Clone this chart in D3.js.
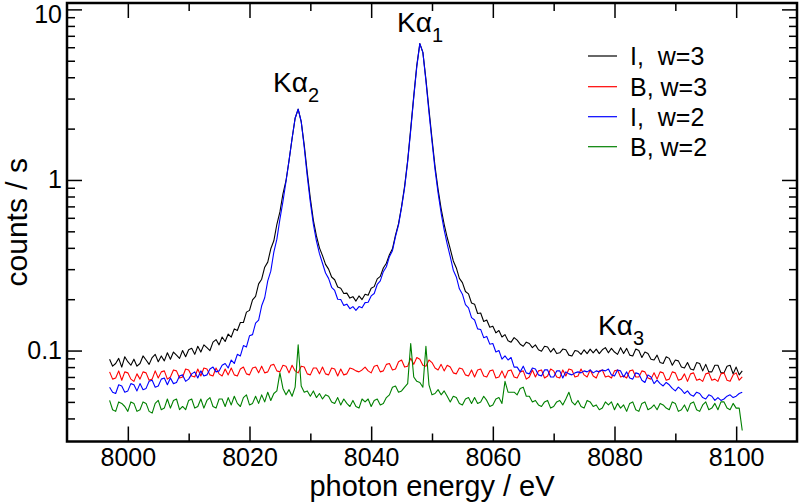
<!DOCTYPE html>
<html><head><meta charset="utf-8">
<script src="https://cdn.jsdelivr.net/npm/d3@7"></script>
<style>
body{margin:0;background:#fff}
svg{display:block}
text{font-family:"Liberation Sans", Arial, Helvetica, sans-serif;fill:#000}
</style>
</head><body><svg id="chart" width="800" height="502"></svg>
<script>
// sampling grid of the spectra (eV)
const energyStart = 7997;
const energyStep = 0.5;

const seriesNames = ["I,  w=3", "B, w=3", "I,  w=2", "B, w=2"];
const seriesColors = ["#000000", "#ff0000", "#0000ff", "#008000"];

// I, w=3 (black)
const countsIw3 = [
0.089,0.081,0.084,0.090,0.080,0.092,0.086,0.082,0.089,0.081,
0.084,0.093,0.088,0.083,0.091,0.095,0.086,0.093,0.087,0.097,
0.089,0.098,0.094,0.090,0.100,0.092,0.101,0.103,0.095,0.106,
0.098,0.108,0.104,0.100,0.112,0.116,0.108,0.120,0.113,0.125,
0.120,0.134,0.131,0.146,0.146,0.168,0.172,0.198,0.208,0.246,
0.262,0.308,0.330,0.395,0.440,0.550,0.650,0.830,0.990,1.300,
1.750,2.300,2.600,2.200,1.600,1.100,0.780,0.580,0.470,0.400,
0.360,0.320,0.300,0.270,0.260,0.236,0.232,0.216,0.217,0.203,
0.207,0.195,0.209,0.199,0.214,0.211,0.232,0.237,0.263,0.272,
0.305,0.325,0.365,0.395,0.475,0.555,0.700,0.920,1.300,2.000,
3.100,4.700,6.300,5.600,3.900,2.600,1.750,1.200,0.880,0.680,
0.550,0.460,0.395,0.335,0.305,0.265,0.250,0.222,0.215,0.190,
0.187,0.165,0.166,0.148,0.151,0.137,0.139,0.127,0.131,0.120,
0.124,0.114,0.112,0.119,0.115,0.109,0.106,0.112,0.110,0.104,
0.108,0.101,0.099,0.106,0.105,0.098,0.103,0.096,0.097,0.102,
0.101,0.094,0.093,0.100,0.099,0.095,0.101,0.096,0.102,0.097,
0.102,0.096,0.101,0.104,0.097,0.103,0.098,0.095,0.104,0.096,
0.103,0.094,0.093,0.102,0.100,0.091,0.098,0.096,0.089,0.088,
0.094,0.085,0.084,0.092,0.090,0.082,0.088,0.087,0.080,0.079,
0.085,0.078,0.077,0.085,0.084,0.076,0.083,0.075,0.075,0.082,
0.082,0.074,0.074,0.081,0.082,0.073,0.080,0.072,0.076
];

// B, w=3 (red)
const countsBw3 = [
0.075,0.068,0.069,0.076,0.067,0.075,0.074,0.068,0.066,0.073,
0.068,0.075,0.074,0.067,0.068,0.076,0.069,0.075,0.076,0.068,
0.070,0.077,0.076,0.069,0.070,0.078,0.077,0.071,0.070,0.078,
0.071,0.079,0.078,0.072,0.071,0.079,0.073,0.071,0.078,0.072,
0.079,0.072,0.071,0.078,0.080,0.073,0.072,0.079,0.080,0.074,
0.081,0.074,0.075,0.082,0.083,0.076,0.075,0.082,0.081,0.074,
0.082,0.076,0.074,0.081,0.080,0.073,0.072,0.079,0.079,0.073,
0.080,0.073,0.072,0.079,0.078,0.071,0.078,0.072,0.073,0.079,
0.078,0.076,0.075,0.077,0.080,0.076,0.074,0.081,0.082,0.075,
0.076,0.083,0.084,0.077,0.078,0.086,0.088,0.080,0.081,0.090,
0.083,0.091,0.089,0.082,0.081,0.088,0.085,0.079,0.077,0.083,
0.076,0.082,0.080,0.074,0.073,0.079,0.078,0.072,0.071,0.077,
0.070,0.077,0.078,0.071,0.070,0.076,0.077,0.069,0.070,0.076,
0.069,0.076,0.077,0.070,0.069,0.075,0.076,0.068,0.070,0.077,
0.070,0.076,0.077,0.069,0.071,0.078,0.076,0.070,0.069,0.077,
0.071,0.078,0.077,0.070,0.071,0.078,0.072,0.070,0.077,0.071,
0.069,0.076,0.077,0.070,0.071,0.069,0.076,0.077,0.070,0.071,
0.069,0.076,0.077,0.070,0.070,0.076,0.075,0.069,0.068,0.074,
0.068,0.075,0.074,0.067,0.068,0.075,0.074,0.067,0.068,0.073,
0.066,0.073,0.074,0.067,0.068,0.066,0.073,0.074,0.067,0.068,
0.066,0.073,0.074,0.067,0.066,0.072,0.074,0.067,0.070
];

// I, w=2 (blue)
const countsIw2 = [
0.061,0.057,0.056,0.063,0.062,0.057,0.058,0.064,0.063,0.058,
0.064,0.059,0.060,0.066,0.067,0.061,0.062,0.068,0.069,0.063,
0.069,0.064,0.065,0.071,0.072,0.066,0.068,0.073,0.075,0.069,
0.076,0.071,0.072,0.078,0.080,0.075,0.076,0.082,0.084,0.079,
0.088,0.084,0.095,0.093,0.107,0.105,0.122,0.124,0.145,0.151,
0.183,0.204,0.256,0.292,0.378,0.450,0.590,0.750,0.980,1.300,
1.750,2.300,2.600,2.200,1.550,1.050,0.740,0.550,0.440,0.370,
0.325,0.285,0.265,0.235,0.225,0.200,0.199,0.184,0.187,0.176,
0.181,0.172,0.181,0.178,0.191,0.192,0.209,0.216,0.244,0.256,
0.290,0.310,0.355,0.385,0.465,0.545,0.690,0.900,1.280,1.950,
3.050,4.600,6.300,5.600,3.800,2.500,1.680,1.150,0.840,0.640,
0.510,0.420,0.355,0.296,0.270,0.230,0.214,0.186,0.178,0.156,
0.151,0.134,0.133,0.119,0.121,0.109,0.110,0.098,0.100,0.089,
0.093,0.088,0.091,0.080,0.080,0.075,0.081,0.074,0.073,0.079,
0.078,0.072,0.071,0.077,0.077,0.070,0.070,0.076,0.076,0.069,
0.075,0.073,0.072,0.074,0.075,0.074,0.076,0.075,0.077,0.074,
0.076,0.075,0.077,0.076,0.078,0.072,0.071,0.077,0.076,0.070,
0.075,0.069,0.068,0.074,0.073,0.067,0.065,0.072,0.070,0.064,
0.067,0.064,0.062,0.065,0.063,0.060,0.058,0.061,0.059,0.056,
0.058,0.055,0.054,0.057,0.056,0.053,0.052,0.055,0.054,0.051,
0.053,0.051,0.052,0.054,0.055,0.053,0.054,0.056,0.057
];

// B, w=2 (green)
const countsBw2 = [
0.051,0.045,0.044,0.050,0.049,0.047,0.044,0.050,0.049,0.044,
0.045,0.050,0.049,0.044,0.043,0.049,0.051,0.045,0.046,0.052,
0.046,0.051,0.052,0.045,0.047,0.045,0.051,0.052,0.046,0.047,
0.052,0.046,0.051,0.053,0.047,0.046,0.052,0.052,0.047,0.053,
0.048,0.054,0.049,0.047,0.053,0.055,0.048,0.049,0.054,0.049,
0.055,0.050,0.057,0.051,0.056,0.058,0.074,0.060,0.055,0.059,
0.054,0.061,0.108,0.062,0.057,0.058,0.054,0.058,0.053,0.056,
0.052,0.055,0.054,0.050,0.049,0.053,0.048,0.052,0.049,0.047,
0.051,0.047,0.046,0.052,0.050,0.052,0.047,0.051,0.052,0.048,
0.049,0.053,0.055,0.061,0.062,0.057,0.058,0.061,0.064,0.110,
0.070,0.066,0.065,0.061,0.106,0.063,0.055,0.056,0.059,0.055,
0.058,0.054,0.050,0.054,0.053,0.049,0.048,0.052,0.053,0.049,
0.053,0.049,0.050,0.054,0.051,0.047,0.048,0.052,0.053,0.049,
0.066,0.057,0.057,0.057,0.055,0.060,0.061,0.054,0.054,0.050,
0.051,0.048,0.047,0.050,0.051,0.046,0.047,0.050,0.051,0.048,
0.052,0.057,0.050,0.048,0.051,0.047,0.046,0.051,0.050,0.047,
0.048,0.045,0.046,0.050,0.048,0.050,0.045,0.049,0.046,0.048,
0.044,0.049,0.050,0.045,0.044,0.049,0.050,0.045,0.046,0.048,
0.045,0.049,0.048,0.046,0.045,0.050,0.049,0.044,0.045,0.048,
0.044,0.049,0.050,0.045,0.044,0.048,0.050,0.045,0.046,0.049,
0.045,0.050,0.050,0.046,0.045,0.049,0.046,0.046,0.034
];

const xMajorTicks = [8000, 8020, 8040, 8060, 8080, 8100];
const xMinorTicks = [8010, 8030, 8050, 8070, 8090];
const yMajorTicks = [0.1, 1, 10];
const yTickLabels = ["0.1", "1", "10"];
const yMinorTicks = [0.04,0.05,0.06,0.07,0.08,0.09,0.2,0.3,0.4,0.5,0.6,0.7,0.8,0.9,2,3,4,5,6,7,8,9];
const peakLabels = [["2"], ["1"], ["3"]];

const allSeries = [countsIw3, countsBw3, countsIw2, countsBw2];

const svg = d3.select("#chart");
const L = 67, R = 797, T = 3, B = 441.5;
const x = d3.scaleLinear().domain([7990, 8110]).range([L, R]);
const y = d3.scaleLog().domain([0.0293, 10.9]).range([B, T]);

// data lines
const line = d3.line()
  .x((d, i) => x(energyStart + i * energyStep))
  .y(d => y(d));
allSeries.forEach((s, k) => {
  svg.append("path").datum(s)
    .attr("fill", "none")
    .attr("stroke", seriesColors[k])
    .attr("stroke-width", 1.1)
    .attr("stroke-linejoin", "round")
    .attr("d", line);
});

// axes (ticks pointing inward)
function styleAxis(g) {
  g.select(".domain").remove();
  g.selectAll(".tick line").attr("stroke", "#000").attr("stroke-width", 1.5);
}
const yFmt = d => yTickLabels[yMajorTicks.indexOf(d)];

svg.append("g").attr("transform", `translate(0,${B})`)
  .call(d3.axisBottom(x).tickValues(xMajorTicks).tickSize(-15).tickPadding(7).tickFormat(d3.format("d")))
  .call(styleAxis)
  .call(g => g.selectAll("text").attr("font-size", 25).attr("font-family", null));
svg.append("g").attr("transform", `translate(0,${B})`)
  .call(d3.axisBottom(x).tickValues(xMinorTicks).tickSize(-8).tickFormat(""))
  .call(styleAxis);
svg.append("g").attr("transform", `translate(0,${T})`)
  .call(d3.axisTop(x).tickValues(xMajorTicks).tickSize(-15).tickFormat(""))
  .call(styleAxis);
svg.append("g").attr("transform", `translate(0,${T})`)
  .call(d3.axisTop(x).tickValues(xMinorTicks).tickSize(-8).tickFormat(""))
  .call(styleAxis);

svg.append("g").attr("transform", `translate(${L},0)`)
  .call(d3.axisLeft(y).tickValues(yMajorTicks).tickSize(-15).tickPadding(5).tickFormat(yFmt))
  .call(styleAxis)
  .call(g => g.selectAll("text").attr("font-size", 25).attr("font-family", null)
    .attr("dy", d => d === 10 ? "0.54em" : "0.32em"));
svg.append("g").attr("transform", `translate(${L},0)`)
  .call(d3.axisLeft(y).tickValues(yMinorTicks).tickSize(-8).tickFormat(""))
  .call(styleAxis);
svg.append("g").attr("transform", `translate(${R},0)`)
  .call(d3.axisRight(y).tickValues(yMajorTicks).tickSize(-15).tickFormat(""))
  .call(styleAxis);
svg.append("g").attr("transform", `translate(${R},0)`)
  .call(d3.axisRight(y).tickValues(yMinorTicks).tickSize(-8).tickFormat(""))
  .call(styleAxis);

// frame
svg.append("rect").attr("x", L).attr("y", T).attr("width", R - L).attr("height", B - T)
  .attr("fill", "none").attr("stroke", "#000").attr("stroke-width", 2.5);

// axis titles
svg.append("text").attr("x", (L + R) / 2).attr("y", 496)
  .attr("text-anchor", "middle").attr("font-size", 29).text("photon energy / eV");
svg.append("text").attr("transform", `translate(27,${(T + B) / 2}) rotate(-90)`)
  .attr("text-anchor", "middle").attr("font-size", 30).text("counts / s");

// peak annotations
const annPos = [[273, 92], [397, 32], [598, 335]];
peakLabels.forEach((p, i) => {
  const t = svg.append("text").attr("x", annPos[i][0]).attr("y", annPos[i][1]).attr("font-size", 28);
  t.append("tspan").text("Kα");
  t.append("tspan").attr("font-size", 20).attr("dy", 10).text(p[0]);
});

// legend
const legY = [56, 86.7, 116.7, 146.7];
seriesNames.forEach((n, k) => {
  svg.append("line").attr("x1", 588).attr("x2", 617).attr("y1", legY[k]).attr("y2", legY[k])
    .attr("stroke", seriesColors[k]).attr("stroke-width", 1.2);
  svg.append("text").attr("x", 630).attr("y", legY[k] + 9).attr("font-size", 25)
    .attr("xml:space", "preserve").style("white-space", "pre").text(n);
});
</script>
</body></html>
